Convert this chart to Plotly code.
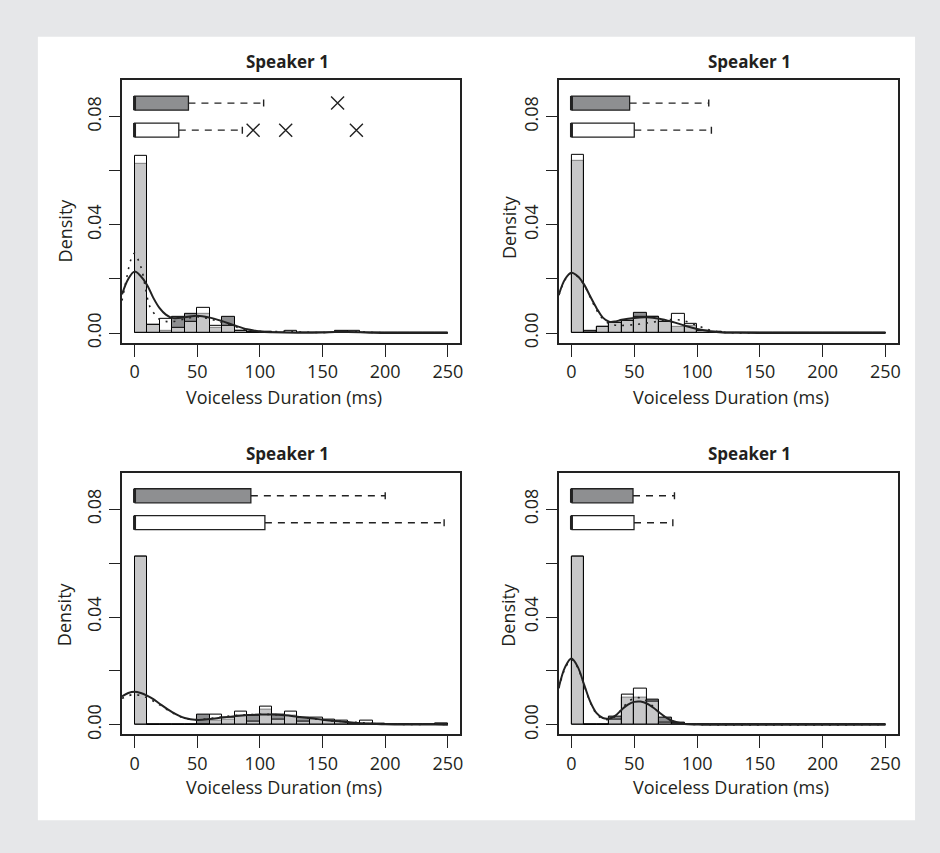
import plotly.graph_objects as go

# ---------------- data ----------------
bin_centers = [5, 15, 25, 35, 45, 55, 65, 75, 85, 95, 105, 115, 125, 135, 145,
               155, 165, 175, 185, 195, 205, 215, 225, 235, 245]

# histogram densities: group A (dark grey) and group B (white)
p1_A = [0.0624, 0.0031, 0.0010, 0.0061, 0.0072, 0.0070, 0.0020, 0.0061, 0.0010, 0.0003, 0.0006, 0, 0, 0, 0,
        0, 0.0010, 0, 0, 0, 0, 0, 0, 0, 0]
p1_B = [0.0656, 0.0031, 0.0051, 0.0018, 0.0040, 0.0094, 0.0027, 0.0028, 0.0010, 0.0005, 0.0006, 0, 0.0010, 0, 0,
        0, 0, 0.0010, 0, 0, 0, 0, 0, 0, 0]
p2_A = [0.0636, 0.0010, 0.0022, 0.0039, 0.0047, 0.0074, 0.0060, 0.0043, 0.0023, 0.0028, 0.0010, 0.0005, 0, 0, 0,
        0, 0, 0, 0, 0, 0, 0, 0, 0, 0]
p2_B = [0.0657, 0, 0.0022, 0.0039, 0.0047, 0.0061, 0.0060, 0.0043, 0.0072, 0.0034, 0.0010, 0.0005, 0, 0, 0,
        0, 0, 0, 0, 0, 0, 0, 0, 0, 0]
p3_A = [0.0626, 0, 0, 0, 0, 0.0038, 0.0015, 0.0018, 0.0033, 0.0033, 0.0058, 0.0037, 0.0033, 0.0028, 0.0018,
        0.0016, 0.0006, 0.0005, 0.0006, 0.0006, 0, 0, 0, 0, 0.0006]
p3_B = [0.0626, 0, 0, 0, 0, 0, 0.0038, 0.0026, 0.0049, 0.0012, 0.0069, 0.0020, 0.0049, 0.0011, 0.0028,
        0.0018, 0.0016, 0.0005, 0.0017, 0, 0, 0, 0, 0, 0.0006]
p4_A = [0.0626, 0, 0, 0.0030, 0.0102, 0.0100, 0.0092, 0.0028, 0.0008, 0.0002, 0, 0, 0, 0, 0,
        0, 0, 0, 0, 0, 0, 0, 0, 0, 0]
p4_B = [0.0626, 0, 0, 0.0018, 0.0112, 0.0133, 0.0086, 0.0008, 0.0006, 0.0002, 0, 0, 0, 0, 0,
        0, 0, 0, 0, 0, 0, 0, 0, 0, 0]

# density curves (solid = group A, dotted = group B)
p1_kx = [-10, -5, 0, 5, 10, 15, 20, 25, 30, 40, 50, 60, 70, 80, 90, 100, 110, 130, 150, 160, 170, 180, 190, 210, 250]
p1_ks = [0.0143, 0.0200, 0.0227, 0.0210, 0.0178, 0.0130, 0.0092, 0.0068, 0.0056, 0.0058, 0.0064, 0.0057, 0.0044,
         0.0028, 0.0014, 0.0006, 0.0003, 0.0001, 0.0002, 0.0004, 0.0004, 0.0003, 0.0001, 0, 0]
p1_dx = [-10, -6, -3, 0, 3, 6, 9, 12, 16, 20, 25, 30, 40, 50, 60, 70, 80, 90, 100, 110, 120, 130, 150, 170, 180, 200, 250]
p1_dd = [0.0120, 0.0210, 0.0270, 0.0295, 0.0270, 0.0230, 0.0160, 0.0100, 0.0070, 0.0050, 0.0043, 0.0042, 0.0052,
         0.0060, 0.0052, 0.0038, 0.0024, 0.0012, 0.0006, 0.0005, 0.0006, 0.0004, 0.0002, 0.0005, 0.0004, 0.0001, 0]

p2_kx = [-10, -5, 0, 5, 10, 15, 20, 25, 30, 35, 40, 50, 60, 70, 80, 90, 100, 110, 120, 130, 150, 250]
p2_ks = [0.0143, 0.0200, 0.0223, 0.0210, 0.0180, 0.0135, 0.0092, 0.0057, 0.0042, 0.0043, 0.0049, 0.0056, 0.0058,
         0.0053, 0.0042, 0.0028, 0.0015, 0.0007, 0.0002, 0.0001, 0, 0]
p2_dd = [0.0140, 0.0198, 0.0222, 0.0208, 0.0178, 0.0132, 0.0085, 0.0052, 0.0035, 0.0029, 0.0028, 0.0031, 0.0037,
         0.0044, 0.0050, 0.0045, 0.0028, 0.0011, 0.0003, 0.0001, 0, 0]

p3_kx = [-10, -5, 0, 5, 10, 15, 20, 30, 40, 50, 60, 70, 80, 90, 100, 110, 120, 130, 140, 150, 160, 170, 180, 190,
         200, 220, 240, 250]
p3_ks = [0.0105, 0.0118, 0.0123, 0.0118, 0.0108, 0.0095, 0.0078, 0.0047, 0.0025, 0.0018, 0.0021, 0.0027, 0.0032,
         0.0036, 0.0038, 0.0038, 0.0035, 0.0030, 0.0025, 0.0019, 0.0014, 0.0010, 0.0006, 0.0004, 0.0002, 0.0001,
         0.0001, 0]
p3_dd = [0.0098, 0.0108, 0.0112, 0.0108, 0.0100, 0.0088, 0.0074, 0.0045, 0.0024, 0.0019, 0.0023, 0.0029, 0.0034,
         0.0037, 0.0039, 0.0038, 0.0035, 0.0030, 0.0024, 0.0018, 0.0014, 0.0011, 0.0008, 0.0005, 0.0003, 0.0001,
         0.0002, 0.0001]

p4_kx = [-10, -5, 0, 5, 10, 15, 20, 25, 30, 35, 40, 45, 50, 55, 60, 65, 70, 75, 80, 90, 100, 110, 250]
p4_ks = [0.0140, 0.0215, 0.0246, 0.0215, 0.0150, 0.0085, 0.0043, 0.0025, 0.0023, 0.0034, 0.0056, 0.0075, 0.0085,
         0.0086, 0.0079, 0.0064, 0.0045, 0.0028, 0.0015, 0.0003, 0.0001, 0, 0]
p4_dd = [0.0135, 0.0210, 0.0242, 0.0212, 0.0148, 0.0083, 0.0040, 0.0022, 0.0020, 0.0032, 0.0058, 0.0085, 0.0098,
         0.0100, 0.0088, 0.0068, 0.0045, 0.0026, 0.0013, 0.0003, 0.0001, 0, 0]

# boxplot summaries (q1 = median = 0 for every group)
box_q3_A = [43.0, 46.3, 92.8, 49.0]
box_up_A = [103.0, 109.3, 200.0, 82.0]
box_out_A = [[162.0], [], [], []]
box_q3_B = [35.3, 50.0, 104.0, 49.8]
box_up_B = [86.0, 111.4, 247.0, 80.7]
box_out_B = [[94.6, 120.6, 177.0], [], [], []]
box_med = 0.0

x_ticks = [0, 50, 100, 150, 200, 250]
y_ticks = [0, 0.02, 0.04, 0.06, 0.08]
y_ticktext = ["0.00", "", "0.04", "", "0.08"]
panel_title = "Speaker 1"
x_title = "Voiceless Duration (ms)"
y_title = "Density"

# ---------------- figure ----------------
W, H = 940, 853
FONT = "Open Sans"
INK = "#231f20"
DARK = "#8e8f91"

panels = [
    (p1_A, p1_B, p1_kx, p1_ks, p1_dx, p1_dd),
    (p2_A, p2_B, p2_kx, p2_ks, p2_kx, p2_dd),
    (p3_A, p3_B, p3_kx, p3_ks, p3_kx, p3_dd),
    (p4_A, p4_B, p4_kx, p4_ks, p4_kx, p4_dd),
]

# pixel layout of the plot boxes
px_x = [(122.4, 461.9), (560.7, 900.9), (122.4, 461.9), (560.7, 900.9)]
px_y = [(80.3, 344.8), (80.3, 344.8), (475.4, 738.8), (475.4, 738.8)]

fig = go.Figure()
ybA, ybB, hh = 0.085, 0.075, 0.0026

for i, (A, B, kx, ks, dx, dd) in enumerate(panels):
    n = "" if i == 0 else str(i + 1)
    xa, ya = "x" + n, "y" + n
    fig.add_trace(go.Bar(x=bin_centers, y=A, width=10, marker=dict(color=DARK, line=dict(color="black", width=1)),
                         xaxis=xa, yaxis=ya, showlegend=False))
    fig.add_trace(go.Bar(x=bin_centers, y=B, width=10,
                         marker=dict(color="rgba(255,255,255,0.5)", line=dict(color="black", width=1)),
                         xaxis=xa, yaxis=ya, showlegend=False))
    fig.add_trace(go.Scatter(x=dx, y=dd, mode="lines", line=dict(color="#222", width=1.6, dash="2px,6px", shape="spline"),
                             xaxis=xa, yaxis=ya, showlegend=False))
    fig.add_trace(go.Scatter(x=kx, y=ks, mode="lines", line=dict(color="#222", width=2, shape="spline"),
                             xaxis=xa, yaxis=ya, showlegend=False))
    # boxplots
    for yc, q3, up, outs, col in [(ybA, box_q3_A[i], box_up_A[i], box_out_A[i], DARK),
                                  (ybB, box_q3_B[i], box_up_B[i], box_out_B[i], "white")]:
        fig.add_trace(go.Scatter(x=[q3, up], y=[yc, yc], mode="lines",
                                 line=dict(color="#222", width=1.4, dash="7px,6px"),
                                 xaxis=xa, yaxis=ya, showlegend=False))
        fig.add_trace(go.Scatter(x=[up, up], y=[yc - hh / 2, yc + hh / 2], mode="lines",
                                 line=dict(color="#222", width=1.4), xaxis=xa, yaxis=ya, showlegend=False))
        fig.add_trace(go.Scatter(x=[box_med, q3, q3, box_med, box_med], y=[yc - hh, yc - hh, yc + hh, yc + hh, yc - hh],
                                 mode="lines", fill="toself", fillcolor=col, line=dict(color="#222", width=1.3),
                                 xaxis=xa, yaxis=ya, showlegend=False))
        fig.add_trace(go.Scatter(x=[box_med, box_med], y=[yc - hh, yc + hh], mode="lines",
                                 line=dict(color="#222", width=3), xaxis=xa, yaxis=ya, showlegend=False))
        if outs:
            fig.add_trace(go.Scatter(x=outs, y=[yc] * len(outs), mode="markers",
                                     marker=dict(symbol="x-thin", size=13, line=dict(color="#222", width=1.4)),
                                     xaxis=xa, yaxis=ya, showlegend=False))

layout = dict(
    width=W, height=H, margin=dict(l=0, r=0, t=0, b=0),
    paper_bgcolor="#e6e7e9", plot_bgcolor="white", barmode="overlay", bargap=0,
    font=dict(family=FONT, size=18, color=INK),
)
for i in range(4):
    n = "" if i == 0 else str(i + 1)
    x0, x1 = px_x[i]
    y0, y1 = px_y[i]
    layout["xaxis" + n] = dict(
        domain=[x0 / W, x1 / W], range=[-10, 260], anchor="y" + n,
        tickvals=x_ticks, ticks="outside", ticklen=12, tickwidth=1.2, tickcolor="#222",
        showline=True, linecolor="#222", linewidth=1.5, mirror=True, showgrid=False, zeroline=False,
        tickfont=dict(size=18, color=INK), ticklabelstandoff=0,
    )
    layout["yaxis" + n] = dict(
        domain=[1 - y1 / H, 1 - y0 / H], range=[-0.0036, 0.0936], anchor="x" + n,
        tickvals=y_ticks, ticktext=y_ticktext, ticks="outside", ticklen=11, tickwidth=1.2, tickcolor="#222",
        tickangle=-90, showline=True, linecolor="#222", linewidth=1.5, mirror=True, showgrid=False,
        zeroline=False, tickfont=dict(size=18, color=INK), ticklabelstandoff=1,
    )
fig.update_layout(**layout)

# white panel background
fig.add_shape(type="rect", xref="paper", yref="paper", x0=38 / W, x1=918 / W, y0=1 - 825 / H, y1=1 - 37 / H,
              fillcolor="white", line=dict(width=0), layer="below")

title_pos = [(288, 62), (752, 62), (288, 456), (752, 456)]
xt_pos = [(285, 399), (733, 399), (285, 792), (733, 792)]
yt_pos = [(65, 232), (510, 228), (65, 618), (510, 618)]
for i in range(4):
    tx, ty = title_pos[i]
    fig.add_annotation(x=tx / W, y=1 - ty / H, xref="paper", yref="paper", text="<b>%s</b>" % panel_title,
                       showarrow=False, font=dict(size=17, color=INK), xanchor="center", yanchor="middle")
    tx, ty = xt_pos[i]
    fig.add_annotation(x=tx / W, y=1 - ty / H, xref="paper", yref="paper", text=x_title,
                       showarrow=False, font=dict(size=18, color=INK), xanchor="center", yanchor="middle",
                       borderpad=0)
    tx, ty = yt_pos[i]
    fig.add_annotation(x=tx / W, y=1 - ty / H, xref="paper", yref="paper", text=y_title, textangle=-90,
                       showarrow=False, font=dict(size=18, color=INK), xanchor="center", yanchor="middle")

fig.write_html("out.html", config={"displayModeBar": False},
               post_script="document.body.style.margin='0px';document.body.style.overflow='hidden';")
